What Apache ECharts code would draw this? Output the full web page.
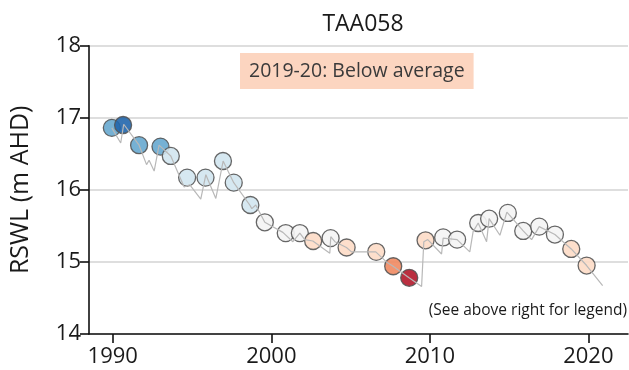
<!DOCTYPE html>
<html>
<head>
<meta charset="utf-8">
<script src="https://cdn.jsdelivr.net/npm/echarts@6/dist/echarts.min.js"></script>
<style>html,body{margin:0;padding:0;background:#fff}#c{width:629px;height:370px}</style>
</head>
<body>
<div id="c"></div>
<script>
// Annual markers
var markerYears = [1989.94,1990.65,1991.66,1993.01,1993.66,1994.69,1995.85,1996.95,1997.63,1998.68,1999.59,2000.91,2001.80,2002.64,2003.74,2004.75,2006.62,2007.69,2008.70,2009.73,2010.84,2011.72,2013.05,2013.74,2014.92,2015.89,2016.90,2017.89,2018.92,2019.89];
var markerValues = [16.86,16.90,16.62,16.60,16.47,16.17,16.17,16.40,16.10,15.79,15.55,15.40,15.40,15.29,15.33,15.20,15.14,14.94,14.78,15.30,15.34,15.31,15.54,15.60,15.68,15.43,15.49,15.38,15.18,14.95];
var markerClass = ['vma','high','vma','vma','abv','abv','abv','abv','abv','abv','avg','avg','avg','blw','avg','blw','blw','vmb','low','blw','avg','avg','avg','avg','avg','avg','avg','avg','blw','blw'];
// Continuous record (grey line)
var lineYears = [1989.94,1990.50,1990.69,1991.66,1992.13,1992.29,1992.61,1992.92,1993.66,1994.50,1994.86,1995.55,1995.87,1996.50,1996.96,1997.63,1998.64,1998.77,1999.02,1999.59,2000.73,2001.36,2001.80,2002.11,2002.62,2003.69,2003.75,2004.01,2004.74,2005.06,2006.21,2006.59,2007.26,2007.68,2008.69,2009.48,2009.62,2009.87,2010.74,2010.84,2011.72,2012.52,2012.73,2013.05,2013.58,2013.74,2014.42,2014.86,2015.89,2016.42,2016.90,2017.89,2018.92,2019.89,2020.90];
var lineValues = [16.86,16.65,16.91,16.62,16.35,16.41,16.26,16.62,16.47,16.04,16.07,15.87,16.21,15.88,16.40,16.10,15.79,15.74,15.79,15.55,15.41,15.28,15.40,15.31,15.29,15.12,15.35,15.28,15.20,15.14,15.14,15.14,15.00,14.94,14.78,14.66,15.28,15.31,15.11,15.33,15.31,15.14,15.42,15.54,15.28,15.60,15.37,15.69,15.43,15.31,15.49,15.38,15.18,14.95,14.67];
var xTicks = [1990, 2000, 2010, 2020];
var yTicks = [14, 15, 16, 17, 18];
var titleText = 'TAA058';
var yAxisTitle = 'RSWL (m AHD)';
var statusText = '2019-20: Below average';
var noteText = '(See above right for legend)';

var classColors = {high:'#2166ac', vma:'#67a9cf', abv:'#d1e5f0', avg:'#f4f4f4', blw:'#fddbc7', vmb:'#ef8a62', low:'#b2182b'};
var FONT = '"Open Sans", "Noto Sans", sans-serif';
var INK = '#1a1a1a';

var scatterData = markerYears.map(function (y, i) {
  return {value: [y, markerValues[i]], itemStyle: {color: classColors[markerClass[i]]}};
});
var lineData = lineYears.map(function (y, i) { return [y, lineValues[i]]; });

var chart = echarts.init(document.getElementById('c'), null, {renderer: 'canvas'});
chart.setOption({
  animation: false,
  backgroundColor: '#fff',
  title: {text: titleText, left: 358, top: 8, textAlign: 'center',
    textStyle: {fontFamily: FONT, fontSize: 23, fontWeight: 'normal', color: INK}},
  grid: {left: 89, top: 45.7, width: 539, height: 288.3, containLabel: false},
  xAxis: {
    type: 'value', min: 1988.5, max: 2022.5,
    axisLine: {show: true, lineStyle: {color: '#111', width: 1.6}},
    axisTick: {show: true, length: 9, customValues: xTicks, lineStyle: {color: '#111', width: 1.6}},
    axisLabel: {customValues: xTicks, margin: 12, fontFamily: FONT, fontSize: 22, color: INK,
      formatter: function (v) { return String(v); }},
    splitLine: {show: false}
  },
  yAxis: {
    type: 'value', min: 14, max: 18, interval: 1,
    name: yAxisTitle, nameLocation: 'middle', nameGap: 56, nameRotate: 90,
    nameTextStyle: {fontFamily: FONT, fontSize: 25, color: INK},
    axisLine: {show: true, onZero: false, lineStyle: {color: '#111', width: 1.6}},
    axisTick: {show: true, length: 9, lineStyle: {color: '#111', width: 1.6}},
    axisLabel: {margin: 8, fontFamily: FONT, fontSize: 22, color: INK},
    splitLine: {show: true, lineStyle: {color: '#d3d3d3', width: 1.5}}
  },
  graphic: [
    {type: 'text', left: 240, top: 53, z: 10,
      style: {text: statusText, fontFamily: FONT, fontSize: 19.5, fill: '#3a3a3a',
        backgroundColor: '#fcd5c0', padding: [8, 9, 8, 9]}},
    {type: 'text', right: 2, top: 303, z: 10,
      style: {text: noteText, fontFamily: FONT, fontSize: 15.5, fill: INK}}
  ],
  series: [
    {type: 'line', data: lineData, showSymbol: false, z: 3,
      lineStyle: {color: '#b8b8b8', width: 1.2}, silent: true},
    {type: 'scatter', data: scatterData, symbolSize: 17, z: 2,
      itemStyle: {borderColor: '#555', borderWidth: 1.3, opacity: 0.9}}
  ]
});
</script>
</body>
</html>
